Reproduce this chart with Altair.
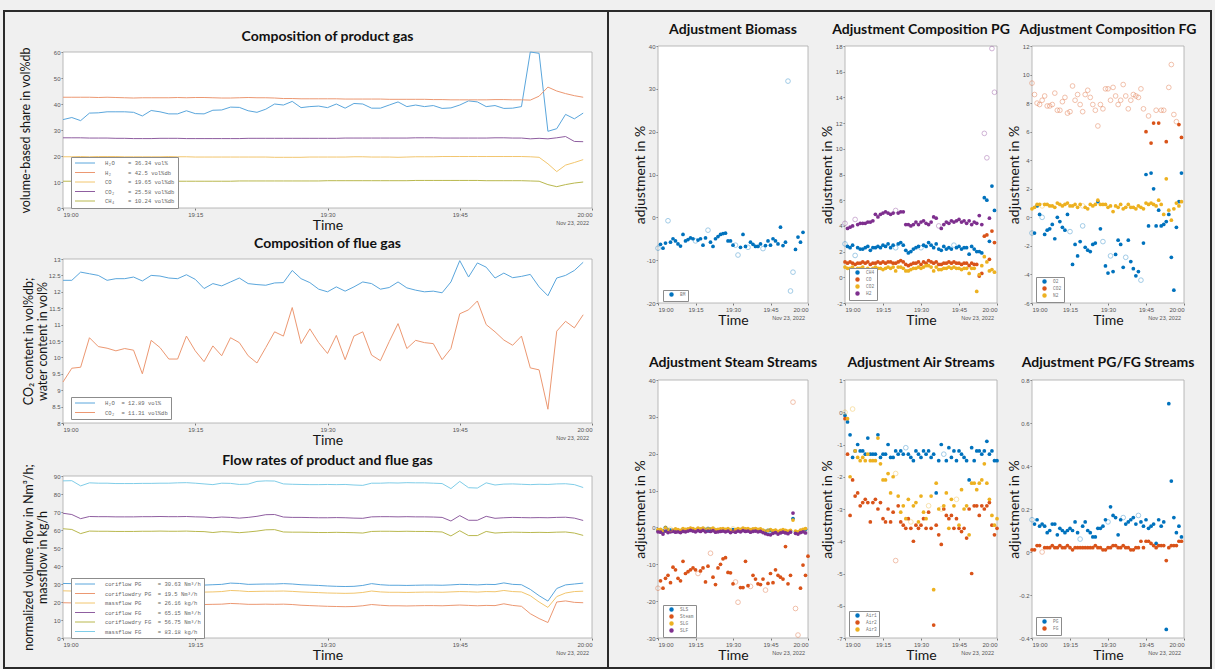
import altair as alt
import pandas as pd

W, H = 1215, 669
FONT = "Lato"
TICKFONT = "Liberation Sans"
MONO = "Liberation Mono"
S = "\u00a0"

minutes = list(range(61))
TIME_TICKS = [0, 15, 30, 45, 60]
TIME_LABEL = "datum.value == 60 ? '20:00' : '19:' + (datum.value < 10 ? '0' : '') + datum.value"
NUM_LABEL = "datum.value + ''"

# ---------------- Composition of product gas ----------------
pg_h2o = [34.0,34.8,33.6,36.5,36.6,37.0,37.0,37.0,36.8,35.4,37.5,37.0,36.2,36.2,37.4,36.3,36.2,37.6,37.7,38.8,
          38.7,37.4,36.8,38.0,40.0,39.6,41.0,38.6,39.0,39.2,38.6,40.0,38.4,40.2,40.0,38.4,38.4,39.6,40.8,39.0,
          39.6,39.0,39.4,38.3,38.5,39.6,41.2,40.8,39.0,39.4,38.3,38.4,39.0,60.0,59.5,29.5,30.5,36.0,34.3,36.5]
pg_h2 = [42.6,42.6,42.6,42.6,42.5,42.6,42.5,42.4,42.3,42.4,42.4,42.4,42.4,42.5,42.4,42.5,42.5,42.4,42.3,42.3,
         42.4,42.5,42.4,42.4,42.3,42.1,42.1,42.0,42.0,42.0,42.0,42.0,41.9,41.9,41.9,41.9,41.9,41.8,41.8,41.8,
         41.8,41.8,41.7,41.7,41.6,41.6,41.6,41.6,41.6,41.7,41.7,41.6,41.6,41.5,43.0,46.5,45.0,44.0,43.2,42.6]
pg_co = [19.7,19.7,19.8,19.7,19.8,19.8,19.8,19.7,19.7,19.7,19.7,19.7,19.8,19.7,19.7,19.6,19.6,19.6,19.6,19.6,
         19.6,19.6,19.6,19.6,19.5,19.5,19.5,19.5,19.6,19.6,19.6,19.6,19.6,19.7,19.7,19.6,19.6,19.6,19.5,19.6,
         19.7,19.7,19.7,19.8,19.8,19.8,19.8,19.8,19.8,19.8,19.8,19.8,19.8,19.7,19.5,17.0,14.0,16.5,17.5,18.6]
pg_co2 = [27.0,27.0,27.0,26.9,26.9,26.9,26.8,26.8,26.7,26.7,26.7,26.8,26.8,26.8,26.7,26.7,26.7,26.7,26.7,26.7,
          26.7,26.8,26.8,26.8,26.8,26.8,26.8,26.8,26.8,26.8,26.8,26.8,26.9,26.9,26.9,26.9,26.9,26.9,26.9,26.9,
          27.0,27.0,27.0,26.9,26.9,26.9,26.9,26.9,26.9,27.0,27.0,26.9,26.9,26.6,26.8,26.6,27.0,27.5,25.6,25.5]
pg_ch4 = [10.3,10.3,10.3,10.3,10.3,10.3,10.3,10.3,10.3,10.3,10.3,10.3,10.3,10.3,10.3,10.3,10.3,10.3,10.3,10.3,
          10.4,10.4,10.4,10.4,10.4,10.4,10.4,10.4,10.4,10.4,10.5,10.5,10.5,10.5,10.5,10.5,10.5,10.5,10.5,10.5,
          10.6,10.6,10.6,10.6,10.6,10.6,10.6,10.6,10.5,10.5,10.5,10.5,10.5,10.4,10.3,9.0,8.2,9.0,9.6,10.0]
p1_names = ["H₂O" + S*4 + "= 36.34 vol%", "H₂" + S*5 + "= 42.5 vol%db", "CO" + S*5 + "= 19.65 vol%db",
            "CO₂" + S*4 + "= 25.58 vol%db", "CH₄" + S*4 + "= 10.24 vol%db"]
p1_colors = ["#5aa6dc", "#ec9872", "#f2c66e", "#8f5ea0", "#b9b84e"]

# ---------------- Composition of flue gas ----------------
fg_h2o = [12.35,12.35,12.6,12.55,12.5,12.35,12.4,12.4,12.45,12.33,12.5,12.48,12.42,12.4,12.52,12.38,12.1,12.25,12.18,12.3,
          12.42,12.25,12.22,12.2,12.27,12.28,12.65,12.4,12.28,12.08,12.0,12.15,12.02,12.15,12.3,12.25,12.08,12.13,12.3,12.12,
          12.05,12.0,12.02,11.97,12.3,12.95,12.45,12.88,12.75,12.42,12.57,12.43,12.47,12.53,12.15,11.88,12.42,12.5,12.65,12.9]
fg_co2 = [9.25,9.67,9.7,10.6,10.33,10.28,10.2,10.27,10.22,9.5,10.52,10.3,9.95,9.95,10.65,10.2,9.87,10.35,10.05,10.6,
          10.45,10.05,9.83,10.3,10.78,10.65,11.52,10.42,10.87,10.45,10.12,10.67,9.93,10.65,10.78,10.07,9.9,10.48,11.03,10.27,
          10.52,10.45,10.42,9.93,10.27,11.33,11.45,11.72,11.0,10.78,10.53,10.37,10.65,9.68,9.62,8.42,10.8,11.1,10.9,11.3]
p2_names = ["H₂O" + S*2 + "= 12.89 vol%", "CO₂" + S*2 + "= 11.31 vol%db"]
p2_colors = ["#5aa6dc", "#ec9872"]

# ---------------- Flow rates ----------------
cf_pg = [30.3,30.2,30.0,29.8,29.9,30.0,29.9,29.9,29.8,29.9,29.8,29.8,29.9,29.8,29.8,29.6,29.4,29.6,29.8,30.5,
         30.3,29.8,29.9,30.0,30.0,30.2,30.0,29.6,29.4,29.2,28.9,28.7,28.6,28.7,29.2,30.2,29.6,29.3,29.3,29.2,
         29.3,29.4,29.4,29.3,29.5,29.8,29.7,29.5,29.8,29.7,30.6,29.8,29.6,27.0,23.5,20.5,27.5,29.5,30.0,30.5]
cfd_pg = [19.6,19.5,19.4,19.3,19.3,19.3,19.2,19.2,19.1,19.1,19.0,19.0,19.0,18.9,18.9,18.7,18.6,18.7,18.8,19.2,
          19.0,18.7,18.7,18.8,18.7,18.8,18.6,18.2,18.0,17.8,17.6,17.5,17.4,17.5,17.9,18.6,18.2,17.9,17.9,17.8,
          17.9,18.0,18.0,17.9,18.1,18.3,18.1,17.9,18.1,18.0,19.0,18.1,17.6,13.5,10.8,8.6,20.0,20.6,19.8,19.6]
mf_pg = [26.2,26.1,26.0,25.9,26.0,26.0,25.9,25.9,25.8,25.9,25.8,25.8,25.9,25.8,25.8,25.6,25.5,25.6,25.8,26.4,
         26.2,25.8,25.9,26.0,26.0,26.1,25.9,25.6,25.4,25.2,25.0,24.9,24.8,24.9,25.3,26.1,25.6,25.4,25.4,25.3,
         25.4,25.5,25.5,25.4,25.6,25.8,25.7,25.5,25.8,25.7,26.4,25.8,25.6,23.5,20.0,17.0,23.0,25.0,25.8,26.0]
cf_fg = [69.3,68.6,66.3,67.5,67.4,67.4,67.3,67.3,67.3,67.4,67.4,67.5,67.4,67.4,67.5,67.3,67.2,66.8,67.2,67.0,
         66.6,67.0,67.6,68.5,68.6,67.2,67.0,67.0,66.9,66.8,66.8,66.9,66.8,66.6,66.5,67.3,67.4,67.4,67.3,67.4,
         67.3,67.3,67.2,67.0,65.0,68.0,65.4,65.4,67.6,66.5,66.8,67.0,66.9,66.8,66.9,66.8,67.0,67.1,66.6,65.3]
cfd_fg = [60.7,60.3,58.0,59.4,59.3,59.3,59.2,59.2,59.2,59.3,59.3,59.4,59.3,59.3,59.4,59.2,59.1,58.6,59.1,58.9,
          58.5,58.9,59.4,60.1,60.2,58.9,58.8,58.8,58.7,58.6,58.6,58.7,58.6,58.5,58.3,59.2,59.3,59.3,59.2,59.3,
          59.2,59.2,59.1,58.9,56.7,59.6,56.9,56.9,59.2,58.3,58.6,58.8,58.7,58.6,58.7,58.6,58.8,58.9,58.3,57.0]
mf_fg = [87.3,87.4,84.5,86.2,86.0,86.0,85.8,85.8,85.8,85.9,85.9,86.0,86.0,86.2,86.3,86.0,85.6,85.2,86.0,85.9,
         85.3,85.5,87.0,87.3,87.2,85.6,85.4,85.3,85.2,85.2,85.3,85.2,85.3,85.0,84.8,86.0,86.0,86.2,86.1,86.3,
         86.2,86.2,86.0,85.8,83.0,87.0,83.5,83.3,86.2,85.0,85.5,85.6,85.4,85.2,85.4,85.3,85.6,85.7,85.2,83.6]
p3_names = ["coriflow PG" + S*5 + "= 30.63 Nm³/h", "coriflowdry PG" + S*2 + "= 19.5 Nm³/h",
            "massflow PG" + S*5 + "= 26.16 kg/h", "coriflow FG" + S*5 + "= 65.15 Nm³/h",
            "coriflowdry FG" + S*2 + "= 56.75 Nm³/h", "massflow FG" + S*5 + "= 83.18 kg/h"]
p3_colors = ["#5aa6dc", "#ec9872", "#f2c66e", "#8f5ea0", "#b9b84e", "#7fcde8"]

# ---------------- Scatter panels ----------------
SC = ["#0072BD", "#D95319", "#EDB120", "#7E2F8E"]

bm = [-7.2,-6.3,-7.2,-6.0,-0.8,-5.8,-5.0,-5.5,-6.2,-6.7,-4.0,-5.5,-5.2,-4.8,-5.0,-5.5,-5.3,-5.0,-6.5,-4.8,
      -3.0,-5.8,-6.8,-5.0,-4.5,-4.0,-3.8,-3.7,-5.5,-5.5,-6.5,-6.5,-8.8,-7.0,-4.0,-6.8,-7.0,-5.8,-6.3,-6.8,
      -6.8,-6.2,-7.3,-6.6,-5.5,-6.5,-5.0,-5.5,-6.2,-2.3,-6.6,-5.8,31.8,-17.2,-12.8,-7.5,-4.6,-5.8,-3.5]
bm_open = [0, 4, 15, 20, 31, 32, 36, 42, 52, 53, 54]

cp_ch4 = [2.6,2.4,2.3,2.5,1.7,2.3,2.2,2.2,2.3,2.4,2.1,2.3,2.3,2.4,2.3,2.5,2.4,2.6,2.3,2.5,
          2.3,2.6,2.7,2.5,2.1,1.9,2.0,2.2,2.3,2.4,2.3,2.5,2.4,2.7,2.5,2.3,2.6,2.2,2.1,2.4,
          2.2,2.3,2.2,2.5,2.3,2.4,2.2,2.3,2.3,1.8,2.4,2.2,2.0,2.0,1.9,6.2,6.0,2.8,7.1,5.2]
cp_co = [1.2,1.1,1.2,1.1,1.0,1.1,1.1,1.2,1.1,1.2,1.0,1.1,1.1,1.2,1.1,1.2,1.1,1.2,1.2,1.1,
         1.1,1.2,1.3,1.2,1.0,0.9,1.0,1.1,1.1,1.2,1.0,1.2,1.1,1.3,1.2,1.1,1.2,1.0,1.0,1.1,
         1.1,1.2,1.1,1.2,1.1,1.1,1.0,1.1,1.1,0.9,1.1,1.0,1.0,0.1,0.3,3.2,3.3,1.4,3.6,2.7]
cp_co2 = [0.8,0.7,0.7,0.8,0.6,0.7,0.7,0.8,0.6,0.7,0.6,0.7,0.8,0.7,0.7,0.6,0.7,0.8,0.7,0.8,
          0.5,0.8,0.8,0.7,0.5,0.5,0.6,0.7,0.7,0.8,0.7,0.8,0.9,0.9,0.8,0.5,0.8,0.6,0.6,0.7,
          0.7,0.8,0.7,0.8,0.7,0.7,0.6,0.7,0.7,0.3,0.7,0.7,-1.1,0.2,0.9,1.6,1.2,0.5,0.6,0.4]
cp_h2 = [4.2,3.8,3.9,4.0,4.5,4.1,4.2,4.2,4.2,4.3,4.3,4.4,4.9,4.7,4.9,5.0,5.1,5.0,4.9,5.0,
         5.2,5.0,5.1,5.1,4.1,4.1,4.0,4.1,4.3,4.1,4.3,4.4,4.2,4.1,4.3,4.7,4.6,4.0,3.8,4.1,
         4.3,4.2,4.4,4.3,4.4,4.5,4.3,4.4,4.2,4.4,4.1,4.3,4.2,4.8,4.1,11.2,9.3,4.6,17.8,14.4]
cp_open = [[0, 4, 20, 30, 43], [], [], [0, 4, 20, 37, 55, 56, 58, 59]]

cf_o2 = [-1.1,-1.1,0.8,0.2,0.0,-1.2,-0.9,-0.8,-0.5,-1.5,0.0,-0.3,-0.7,-0.9,0.2,-1.0,-3.3,-1.9,-2.7,-1.7,
         -0.6,-2.1,-2.3,-2.4,-1.9,-1.8,1.1,-0.8,-1.7,-3.4,-3.9,-2.7,-3.8,-2.6,-1.6,-1.9,-3.5,-2.8,-1.6,-3.1,
         -3.6,-4.1,-3.8,-4.4,-1.8,3.0,-0.6,3.1,2.0,-0.6,0.5,-0.6,-0.5,-0.3,0.2,-2.8,-5.1,-0.7,1.1,3.1]
cf_co2 = [9.4,8.6,8.0,7.9,8.2,8.5,7.8,7.8,7.9,8.7,7.5,7.5,8.1,8.4,7.3,7.4,9.2,8.2,8.6,7.9,
          7.4,8.6,8.9,8.4,7.9,7.5,6.4,7.9,7.6,9.0,9.0,8.2,9.1,8.5,7.9,8.2,9.3,8.5,7.6,8.2,
          8.6,8.5,8.4,9.0,7.6,6.0,7.1,5.2,6.6,7.5,6.6,7.5,7.5,5.3,9.1,10.7,7.2,6.7,6.5,5.6]
cf_n2 = [0.6,0.7,0.9,0.9,0.8,0.9,0.9,0.8,0.8,0.7,1.0,0.9,0.8,0.9,1.0,0.8,0.8,0.9,0.7,0.9,
         0.8,0.7,0.6,0.9,0.8,0.9,1.2,0.9,0.9,0.9,0.7,0.8,0.4,0.8,0.7,0.9,0.6,0.7,0.9,0.7,
         0.7,0.6,0.8,0.7,0.6,1.0,0.9,1.0,0.9,0.8,1.2,0.9,0.2,2.7,0.5,-0.2,0.6,1.0,0.8,1.1]
cf_co2_filled = [45, 47, 48, 50, 53, 58, 59]
cf_open = [[0, 4, 15, 20, 28, 31, 37, 43],
           [i for i in range(len(cf_co2)) if i not in cf_co2_filled],
           [4, 20]]

st_1 = [-0.8,-1.0,-1.2,-0.3,-0.8,-0.7,-0.9,-0.6,-0.8,-1.0,-0.5,-0.7,-0.6,-0.3,-0.5,-0.8,-0.4,-0.6,-0.3,-0.7,
        -0.5,-0.6,-0.4,-0.8,-0.7,-0.6,-0.5,-0.7,-0.5,-0.9,-0.6,-0.8,-0.5,-0.7,-0.4,-0.6,-0.5,-0.8,-0.6,-0.5,
        -0.7,-0.6,-0.9,-1.2,-1.0,-0.8,-1.1,-0.9,-1.3,-1.0,-0.8,-1.0,-1.2,-1.0,2.4,-1.2,-1.4,-0.9,-0.7,-0.5]
st_steam = [-16.5,-14.5,-16.5,-13.8,-13.0,-15.0,-10.8,-11.5,-13.8,-14.5,-9.2,-12.5,-12.0,-11.5,-11.0,-11.5,-12.5,-11.8,-11.0,-14.8,
            -10.5,-7.0,-13.5,-15.5,-11.0,-10.0,-8.5,-8.2,-12.2,-12.3,-15.3,-14.8,-20.3,-16.3,-16.3,-9.2,-15.8,-16.0,-13.0,-14.0,
            -15.3,-15.5,-14.0,-17.0,-15.2,-12.5,-15.0,-11.5,-13.0,-13.5,-14.0,-5.2,-15.3,-13.0,34.0,-22.0,-29.2,-16.5,-10.2,-13.0,-7.8]
st_3 = [-0.6,-0.5,-0.9,0.0,-0.6,-0.5,-0.7,-0.4,-0.6,-0.8,-0.3,-0.5,-0.4,-0.2,-0.3,-0.6,-0.2,-0.4,-0.2,-0.5,
        -0.3,-0.4,-0.2,-0.6,-0.5,-0.4,-0.3,-0.5,-0.3,-0.7,-0.4,-0.6,-0.3,-0.5,-0.2,-0.4,-0.3,-0.6,-0.4,-0.3,
        -0.5,-0.4,-0.7,-1.0,-0.8,-0.6,-0.9,-0.7,-1.1,-0.8,-0.6,-0.8,-1.0,-0.8,2.0,-1.0,-1.2,-0.7,-0.5,-0.3]
st_4 = [-1.2,-1.3,-1.8,-1.0,-1.4,-1.2,-1.1,-1.3,-1.2,-1.4,-1.1,-1.2,-1.0,-0.8,-1.0,-1.2,-0.9,-1.1,-0.8,-1.2,
        -1.0,-1.1,-0.9,-1.3,-1.2,-1.1,-1.0,-1.2,-1.0,-1.4,-1.1,-1.3,-1.0,-1.2,-0.9,-1.1,-1.0,-1.3,-1.1,-1.0,
        -1.2,-1.1,-1.4,-1.7,-1.9,-2.0,-1.6,-1.4,-1.8,-1.5,-1.3,-1.5,-1.7,-1.3,3.9,-1.6,-1.8,-1.4,-1.2,-1.5]
st_open = [[3, 20, 44], [0, 16, 21, 31, 32, 37, 43, 54, 55, 56], [5, 30], []]

air_1 = [-0.1,-0.3,-0.7,-1.4,-1.2,-1.0,-1.2,-1.2,-1.3,-0.8,-1.3,-1.3,-1.3,-0.7,-1.4,-1.3,-1.3,-1.0,-1.4,-1.4,
         -1.2,-1.3,-1.2,-1.3,-1.1,-1.3,-1.4,-1.5,-1.2,-1.3,-1.4,-1.2,-1.3,-1.2,-1.4,-1.3,-2.5,-1.5,-1.0,-1.3,
         -1.5,-1.1,-1.4,-1.2,-1.5,-1.2,-1.3,-1.4,-1.5,-2.1,-1.1,-1.5,-1.2,-1.2,-1.3,-1.2,-0.9,-1.3,-1.2,-1.5,-1.5]
air_2 = [-0.2,-1.3,-3.2,-2.1,-2.6,-2.5,-2.9,-2.8,-2.7,-2.8,-3.4,-2.8,-2.7,-3.0,-2.8,-3.3,-3.4,-3.0,-3.4,-3.1,
         -4.6,-2.9,-3.4,-3.5,-3.6,-3.3,-3.6,-4.0,-3.5,-3.6,-3.5,-3.3,-3.6,-3.1,-3.6,-6.6,-3.5,-3.8,-4.1,-3.0,
         -3.2,-3.3,-3.2,-3.6,-3.3,-3.6,-3.7,-3.6,-3.9,-3.0,-5.0,-2.9,-2.9,-3.2,-2.9,-3.0,-2.9,-2.8,-3.5,-3.8,-3.6]
air_3 = [0.0,-0.2,-2.0,0.1,-1.2,-1.4,-1.5,-1.4,-1.5,-1.3,-1.5,-1.5,-1.5,-0.8,-1.6,-2.1,-2.1,-1.9,-2.5,-2.0,
         -1.9,-2.6,-3.1,-2.9,-3.3,-2.7,-3.4,-2.9,-2.8,-3.4,-2.6,-3.1,-3.3,-2.9,-2.6,-5.5,-2.2,-3.0,-3.0,-2.9,
         -2.5,-3.6,-2.7,-2.9,-2.7,-3.5,-2.4,-3.0,-2.9,-3.8,-2.2,-2.2,-2.4,-2.2,-2.1,-1.6,-2.2,-2.7,-3.2,-3.5,-3.3]
air_open = [[24, 39], [20], [0, 3, 20, 26, 33, 38, 44]]

pf_pg = [0.15,0.13,0.15,0.12,0.13,0.12,0.09,0.10,0.13,0.13,0.08,0.11,0.10,0.09,0.10,0.11,0.10,0.14,0.09,0.06,
         0.12,0.14,0.10,0.09,0.07,0.07,0.11,0.11,0.12,0.15,0.14,0.21,0.17,0.16,0.08,0.15,0.16,0.13,0.14,0.15,
         0.16,0.13,0.17,0.14,0.12,0.15,0.11,0.12,0.13,0.04,0.15,0.12,0.14,-0.36,0.69,0.33,0.16,0.09,0.12,0.07]
pf_fg = [0.01,0.01,0.03,0.03,0.00,0.02,0.02,0.02,0.03,0.02,0.02,0.03,0.02,0.02,0.03,0.02,0.01,0.02,0.02,0.02,
         0.02,0.02,0.02,0.02,0.02,0.03,0.02,0.02,0.01,0.01,0.02,0.02,0.03,0.03,0.02,0.02,0.03,0.02,0.02,0.01,
         0.01,0.02,0.02,0.05,0.02,0.05,0.05,0.04,0.03,0.02,0.03,0.03,0.03,-0.04,0.02,0.03,0.03,0.03,0.05,0.05]
pf_open = [[0, 19, 30, 36, 42], [4]]


def long_df(names, series, opens=None):
    rows = []
    for k, (name, vals) in enumerate(zip(names, series)):
        op = set(opens[k]) if opens else set()
        for i, v in enumerate(vals):
            rows.append({"m": minutes[i], "v": v, "s": name, "o": int(i in op)})
    return pd.DataFrame(rows)


def scales(box, ydom, yticks, ytitle, ytitle_x, ytitle_size):
    x0, x1, top, bottom = box
    xs = alt.Scale(domain=[0, 60], range=[x0, x1], nice=False, zero=False)
    ys = alt.Scale(domain=ydom, range=[bottom, top], nice=False, zero=False)
    xa = alt.Axis(orient="bottom", offset=bottom - H, values=TIME_TICKS, labelExpr=TIME_LABEL,
                  title="Time", titleY=10, titleBaseline="top", grid=False, domain=False,
                  tickSize=2, tickColor="#777", labelFont=TICKFONT, labelFontSize=6,
                  labelColor="#555", labelPadding=1, titleFont=FONT, titleFontSize=14,
                  titleFontWeight="normal", titleColor="#151515")
    ya = alt.Axis(orient="left", offset=-x0, values=yticks, labelExpr=NUM_LABEL, title=ytitle,
                  titleX=ytitle_x, grid=False, domain=False, tickSize=2, tickColor="#777",
                  labelFont=TICKFONT, labelFontSize=6, labelColor="#555", labelPadding=1,
                  titleFont=FONT, titleFontSize=ytitle_size, titleFontWeight="normal",
                  titleColor="#151515", titleLineHeight=14)
    return xs, ys, xa, ya


def frame_layers(box, ydom, title, xs, ys, xa, ya, dy_title):
    one = pd.DataFrame({"k": [0]})
    bg = alt.Chart(one).mark_rect(fill="white", stroke="#a8a8a8", strokeWidth=0.8).encode(
        x=alt.XDatum(0, scale=xs, axis=xa), x2=alt.X2Datum(60),
        y=alt.YDatum(ydom[0], scale=ys, axis=ya), y2=alt.Y2Datum(ydom[1]))
    ttl = alt.Chart(one).mark_text(text=title, font=FONT, fontSize=14, fontWeight="bold",
                                   color="#111", baseline="middle", align="center",
                                   dy=dy_title).encode(
        x=alt.XDatum(30, scale=xs, axis=xa), y=alt.YDatum(ydom[1], scale=ys, axis=ya))
    date = alt.Chart(one).mark_text(text="Nov 23, 2022", font=TICKFONT, fontSize=5.5,
                                    color="#555", baseline="middle", align="right",
                                    dx=-3, dy=15).encode(
        x=alt.XDatum(60, scale=xs, axis=xa), y=alt.YDatum(ydom[0], scale=ys, axis=ya))
    return bg, ttl, date


def line_panel(box, ydom, yticks, ytitle, ytitle_x, title, names, series, colors, lx, ly):
    xs, ys, xa, ya = scales(box, ydom, yticks, ytitle, ytitle_x, 12.5)
    bg, ttl, date = frame_layers(box, ydom, title, xs, ys, xa, ya, -15)
    leg = alt.Legend(orient="none", legendX=lx, legendY=ly, title=None, fillColor="white",
                     strokeColor="#8c8c8c", padding=3, labelFont=MONO, labelFontSize=5.5,
                     labelColor="#666", symbolType="M-4,0H4", symbolSize=25,
                     symbolStrokeWidth=1, symbolOffset=8, rowPadding=2.5, labelOffset=17,
                     labelLimit=300)
    lines = alt.Chart(long_df(names, series)).mark_line(strokeWidth=1).encode(
        x=alt.X("m:Q", scale=xs, axis=xa), y=alt.Y("v:Q", scale=ys, axis=ya),
        color=alt.Color("s:N", scale=alt.Scale(domain=names, range=colors), legend=leg),
        order="m:Q")
    return alt.layer(bg, lines, ttl, date)


def scatter_panel(box, ydom, yticks, title, names, series, opens, colors, lx, ly, dy_title):
    xs, ys, xa, ya = scales(box, ydom, yticks, "adjustment in %", -11, 14)
    bg, ttl, date = frame_layers(box, ydom, title, xs, ys, xa, ya, dy_title)
    df = long_df(names, series, opens)
    cscale = alt.Scale(domain=names, range=colors)
    leg = alt.Legend(orient="none", legendX=lx, legendY=ly, title=None, fillColor="white",
                     strokeColor="#8c8c8c", padding=2, labelFont=MONO, labelFontSize=4.5,
                     labelColor="#777", symbolType="circle", symbolSize=9,
                     rowPadding=-3, labelOffset=6, symbolOffset=4)
    filled = alt.Chart(df).transform_filter("datum.o == 0").mark_circle(size=14, opacity=1).encode(
        x=alt.X("m:Q", scale=xs, axis=xa), y=alt.Y("v:Q", scale=ys, axis=ya),
        color=alt.Color("s:N", scale=cscale, legend=leg))
    hollow = alt.Chart(df).transform_filter("datum.o == 1").mark_point(
        size=22, filled=False, strokeWidth=0.8, opacity=0.45).encode(
        x=alt.X("m:Q", scale=xs, axis=xa), y=alt.Y("v:Q", scale=ys, axis=ya),
        color=alt.Color("s:N", scale=cscale, legend=leg))
    return alt.layer(bg, filled, hollow, ttl, date)


# ---------------- outer frame ----------------
one = pd.DataFrame({"k": [0]})
frame = alt.Chart(one).mark_rect(fillOpacity=0, stroke="#2b2b2b", strokeWidth=2).encode(
    x=alt.value(4), x2=alt.value(1211), y=alt.value(11), y2=alt.value(668))
divider = alt.Chart(one).mark_rule(color="#2b2b2b", strokeWidth=2).encode(
    x=alt.value(608), y=alt.value(11), y2=alt.value(668))

LX0, LX1 = 63, 592
p1 = line_panel((LX0, LX1, 52, 208), [0, 60], [0, 10, 20, 30, 40, 50, 60],
                "volume-based share in vol%db", -31, "Composition of product gas",
                p1_names, [pg_h2o, pg_h2, pg_co, pg_co2, pg_ch4], p1_colors, 71, 157)
p2 = line_panel((LX0, LX1, 259, 423), [8, 13], [8, 8.5, 9, 9.5, 10, 10.5, 11, 11.5, 12, 12.5, 13],
                ["CO₂ content in vol%db;", "water content in vol%"], -28, "Composition of flue gas",
                p2_names, [fg_h2o, fg_co2], p2_colors, 71, 397)
p3 = line_panel((LX0, LX1, 476, 638), [0, 90], [0, 10, 20, 30, 40, 50, 60, 70, 80, 90],
                ["normalized volume flow in Nm³/h;", "massflow in kg/h"], -28,
                "Flow rates of product and flue gas",
                p3_names, [cf_pg, cfd_pg, mf_pg, cf_fg, cfd_fg, mf_fg], p3_colors, 71, 578)

CA, CB, CC = (658, 808), (845, 997), (1032, 1184)
R1, R2 = (46, 303), (380, 638)
s1 = scatter_panel((CA[0], CA[1], R1[0], R1[1]), [-20, 40], [-20, -10, 0, 10, 20, 30, 40],
                   "Adjustment Biomass", ["BM"], [bm], [bm_open], SC[:1], 663, 290, -16)
s2 = scatter_panel((CB[0], CB[1], R1[0], R1[1]), [-2, 18], [-2, 0, 2, 4, 6, 8, 10, 12, 14, 16, 18],
                   "Adjustment Composition PG", ["CH4", "CO", "CO2", "H2"],
                   [cp_ch4, cp_co, cp_co2, cp_h2], cp_open, SC, 849, 268, -16)
s3 = scatter_panel((CC[0], CC[1], R1[0], R1[1]), [-6, 12], [-6, -4, -2, 0, 2, 4, 6, 8, 10, 12],
                   "Adjustment Composition FG", ["O2", "CO2", "N2"],
                   [cf_o2, cf_co2, cf_n2], cf_open, SC[:3], 1036, 277, -16)
s4 = scatter_panel((CA[0], CA[1], R2[0], R2[1]), [-30, 40], [-30, -20, -10, 0, 10, 20, 30, 40],
                   "Adjustment Steam Streams", ["SLS", "Steam", "SLG", "SLF"],
                   [st_1, st_steam, st_3, st_4], st_open, SC, 663, 605, -17)
s5 = scatter_panel((CB[0], CB[1], R2[0], R2[1]), [-7, 1], [-7, -6, -5, -4, -3, -2, -1, 0, 1],
                   "Adjustment Air Streams", ["Air1", "Air2", "Air3"],
                   [air_1, air_2, air_3], air_open, SC[:3], 849, 611, -17)
s6 = scatter_panel((CC[0], CC[1], R2[0], R2[1]), [-0.4, 0.8], [-0.4, -0.2, 0, 0.2, 0.4, 0.6, 0.8],
                   "Adjustment PG/FG Streams", ["PG", "FG"],
                   [pf_pg, pf_fg], pf_open, SC[:2], 1036, 617, -17)

chart = alt.layer(frame, divider, p1, p2, p3, s1, s2, s3, s4, s5, s6).resolve_scale(
    x="independent", y="independent", color="independent"
).properties(
    width=W, height=H, padding=0, background="#f0f0f0",
    autosize=alt.AutoSizeParams(type="none")
).configure_view(strokeWidth=0)

chart.save("out.html", embed_options={"renderer": "svg", "actions": False})
